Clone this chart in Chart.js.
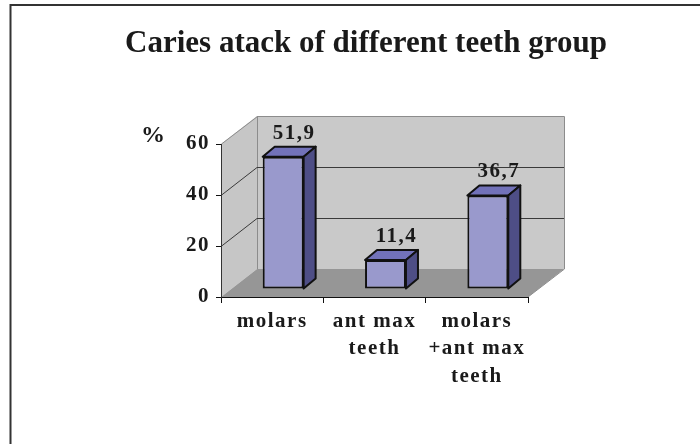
<!DOCTYPE html>
<html>
<head>
<meta charset="utf-8">
<style>
  html, body { margin: 0; padding: 0; background: #fff; }
  #wrap { width: 700px; height: 444px; }
</style>
<script src="https://cdn.jsdelivr.net/npm/chart.js@4.4.0/dist/chart.umd.min.js"></script>
</head>
<body>
<div id="wrap"><canvas id="grafico" width="700" height="444"></canvas></div>
<script>
const titulo = 'Caries atack of different teeth group';
const categorias = [['molars'], ['ant max', 'teeth'], ['molars', '+ant max', 'teeth']];
const caries = [51.9, 11.4, 36.7];
const yTicks = [0, 20, 40, 60];

const familia = '"Liberation Serif", "Times New Roman", serif';
const fuente = 'bold 21px ' + familia;
const espaciado = '1.5px';
// profundidad del "3D" (pared del fondo) y de las barras
const fondo = { dx: 36, dy: -28 };
const prof = { dx: 12, dy: -10 };
const desplaz = { dx: 11, dy: -8 };

const paredes = {
  id: 'paredes',
  beforeDraw(chart) {
    const ctx = chart.ctx;
    const a = chart.chartArea;
    const y = chart.scales.y;

    ctx.save();
    ctx.letterSpacing = '0px';
    // marco
    ctx.strokeStyle = '#333';
    ctx.lineWidth = 2;
    ctx.beginPath();
    ctx.moveTo(10.5, 444);
    ctx.lineTo(10.5, 5);
    ctx.lineTo(700, 5);
    ctx.stroke();

    // titulo
    ctx.fillStyle = '#1a1a1a';
    ctx.font = 'bold 31px ' + familia;
    ctx.textAlign = 'center';
    ctx.textBaseline = 'alphabetic';
    ctx.fillText(titulo, 366, 52);

    ctx.font = 'bold 24px ' + familia;
    ctx.fillText('%', 153, 142);

    const y0 = y.getPixelForValue(0);
    const yTop = y.getPixelForValue(yTicks[yTicks.length - 1]);

    // pared izquierda
    ctx.fillStyle = '#c6c6c6';
    ctx.beginPath();
    ctx.moveTo(a.left, y0);
    ctx.lineTo(a.left, yTop);
    ctx.lineTo(a.left + fondo.dx, yTop + fondo.dy);
    ctx.lineTo(a.left + fondo.dx, y0 + fondo.dy);
    ctx.closePath();
    ctx.fill();

    // pared del fondo
    ctx.fillStyle = '#c9c9c9';
    ctx.fillRect(a.left + fondo.dx, yTop + fondo.dy, a.right - a.left, y0 - yTop);

    // suelo
    ctx.fillStyle = '#969696';
    ctx.beginPath();
    ctx.moveTo(a.left, y0);
    ctx.lineTo(a.right, y0);
    ctx.lineTo(a.right + fondo.dx, y0 + fondo.dy);
    ctx.lineTo(a.left + fondo.dx, y0 + fondo.dy);
    ctx.closePath();
    ctx.fill();

    // bordes grises
    ctx.strokeStyle = '#8c8c8c';
    ctx.lineWidth = 1;
    ctx.beginPath();
    ctx.moveTo(a.left + 0.5, yTop);
    ctx.lineTo(a.left + fondo.dx + 0.5, yTop + fondo.dy + 0.5);
    ctx.lineTo(a.right + fondo.dx + 0.5, yTop + fondo.dy + 0.5);
    ctx.lineTo(a.right + fondo.dx + 0.5, y0 + fondo.dy);
    ctx.lineTo(a.right, y0);
    ctx.moveTo(a.left + fondo.dx + 0.5, yTop + fondo.dy);
    ctx.lineTo(a.left + fondo.dx + 0.5, y0 + fondo.dy);
    ctx.stroke();

    // lineas de division
    ctx.strokeStyle = '#3a3a3a';
    yTicks.slice(1, -1).forEach(v => {
      const py = Math.round(y.getPixelForValue(v)) + 0.5;
      ctx.beginPath();
      ctx.moveTo(a.left, py);
      ctx.lineTo(a.left + fondo.dx, py + fondo.dy);
      ctx.lineTo(a.right + fondo.dx, py + fondo.dy);
      ctx.stroke();
    });
    ctx.restore();

    // las etiquetas de los ejes van un poco espaciadas
    chart.ctx.letterSpacing = espaciado;
  },
  beforeDatasetsDraw(chart) {
    chart.ctx.save();
    chart.ctx.translate(desplaz.dx, desplaz.dy);
  },
  afterDatasetsDraw(chart) {
    const ctx = chart.ctx;
    const meta = chart.getDatasetMeta(0);
    ctx.lineWidth = 2;
    ctx.lineJoin = 'round';
    ctx.strokeStyle = '#111';
    meta.data.forEach((bar, i) => {
      const p = bar.getProps(['x', 'y', 'base', 'width'], true);
      const izq = p.x - p.width / 2;
      const der = p.x + p.width / 2;
      // cara superior
      ctx.fillStyle = '#7272b9';
      ctx.beginPath();
      ctx.moveTo(izq, p.y);
      ctx.lineTo(izq + prof.dx, p.y + prof.dy);
      ctx.lineTo(der + prof.dx, p.y + prof.dy);
      ctx.lineTo(der, p.y);
      ctx.closePath();
      ctx.fill();
      ctx.stroke();
      // cara lateral
      ctx.fillStyle = '#4e4e86';
      ctx.beginPath();
      ctx.moveTo(der, p.y);
      ctx.lineTo(der + prof.dx, p.y + prof.dy);
      ctx.lineTo(der + prof.dx, p.base + prof.dy);
      ctx.lineTo(der, p.base);
      ctx.closePath();
      ctx.fill();
      ctx.stroke();
      // etiqueta
      ctx.fillStyle = '#1a1a1a';
      ctx.font = fuente;
      ctx.letterSpacing = espaciado;
      ctx.textAlign = 'center';
      ctx.textBaseline = 'alphabetic';
      ctx.fillText(caries[i].toFixed(1).replace('.', ','), p.x + 11, p.y + prof.dy - 8);
    });
    ctx.restore();
  }
};

new Chart(document.getElementById('grafico'), {
  type: 'bar',
  data: {
    labels: categorias,
    datasets: [{
      data: caries,
      backgroundColor: '#9999cc',
      borderColor: '#111',
      borderWidth: 2,
      borderSkipped: false,
      barPercentage: 0.4,
      categoryPercentage: 1,
      clip: false
    }]
  },
  options: {
    responsive: false,
    animation: false,
    events: [],
    layout: { padding: { left: 10, right: 172, top: 144, bottom: 20 } },
    plugins: {
      legend: { display: false },
      title: { display: false },
      tooltip: { enabled: false }
    },
    scales: {
      x: {
        offset: true,
        grid: { offset: true, drawOnChartArea: false, tickLength: 6, color: '#111' },
        border: { color: '#111', width: 1 },
        ticks: {
          color: '#1a1a1a',
          padding: 5,
          maxRotation: 0,
          autoSkip: false,
          font: { family: familia, size: 21, weight: 'bold', lineHeight: 1.3 }
        },
        afterFit(scale) { scale.height = 127; }
      },
      y: {
        min: yTicks[0],
        max: yTicks[yTicks.length - 1],
        grid: { drawOnChartArea: false, tickLength: 5, color: '#111' },
        border: { color: '#333', width: 1 },
        afterBuildTicks(scale) { scale.ticks = yTicks.map(v => ({ value: v })); },
        ticks: {
          color: '#1a1a1a',
          padding: 6,
          font: { family: familia, size: 21, weight: 'bold' }
        },
        afterFit(scale) { scale.width = 211; }
      }
    }
  },
  plugins: [paredes]
});
</script>
</body>
</html>
